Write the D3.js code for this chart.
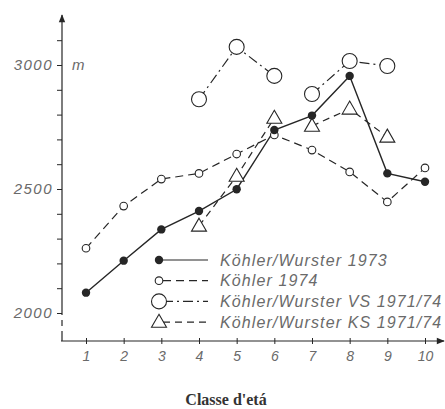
<!DOCTYPE html>
<html>
<head>
<meta charset="utf-8">
<script src="https://cdn.jsdelivr.net/npm/d3@7"></script>
<style>
  body { margin: 0; background: #fff; }
  svg { display: block; }
  .lbl { font-family: "Liberation Sans", sans-serif; font-style: italic; fill: #6a6a6a; }
</style>
</head>
<body>
<svg id="chart"></svg>
<script>
const classes = [1, 2, 3, 4, 5, 6, 7, 8, 9, 10];
const kw1973 = [2082, 2211, 2337, 2411, 2499, 2738, 2796, 2956, 2563, 2529];
const k1974 = [2261, 2431, 2540, 2563, 2641, 2718, 2657, 2569, 2448, 2585];
// VS and KS series cover classes 4-9, with a break between 6 and 7
const vsClasses = [[4, 5, 6], [7, 8, 9]];
const vsValues = [[2862, 3073, 2956], [2883, 3016, 2996]];
const ksClasses = [[4, 5, 6], [7, 8, 9]];
const ksValues = [[2351, 2552, 2786], [2754, 2823, 2710]];
const yTicks = [2000, 2100, 2200, 2300, 2400, 2500, 2600, 2700, 2800, 2900, 3000, 3100];
const yLabels = [2000, 2500, 3000];
const legendNames = [
  "Köhler/Wurster 1973",
  "Köhler 1974",
  "Köhler/Wurster VS 1971/74",
  "Köhler/Wurster KS 1971/74"
];
const xTitle = "Classe d'etá";

const width = 445, height = 409;
const ink = "#262626";

const svg = d3.select("#chart").attr("width", width).attr("height", height);

const xScale = d3.scaleLinear().domain([1, 10]).range([86, 425]);
const yScale = d3.scaleLinear().domain([2000, 3000]).range([313, 65]);

const axisX = 62;
const baseY = 341;

// arrow heads
const defs = svg.append("defs");
defs.append("marker")
  .attr("id", "arrow")
  .attr("viewBox", "0 0 10 10")
  .attr("refX", 9).attr("refY", 5)
  .attr("markerWidth", 10).attr("markerHeight", 8)
  .attr("markerUnits", "userSpaceOnUse")
  .attr("orient", "auto")
  .append("path")
  .attr("d", "M0,1 L10,5 L0,9 Z")
  .attr("fill", ink);

// y axis
const yAxis = d3.axisLeft(yScale)
  .tickValues(yTicks)
  .tickSize(5)
  .tickSizeOuter(0)
  .tickFormat(d => (yLabels.includes(d) ? d : ""));

const gy = svg.append("g")
  .attr("transform", `translate(${axisX},0)`)
  .call(yAxis);
gy.select(".domain").remove();
gy.selectAll(".tick line").attr("stroke", ink).attr("stroke-width", 1);
gy.selectAll(".tick text")
  .attr("class", "lbl")
  .attr("x", -9)
  .style("font-size", "15px")
  .style("letter-spacing", "1.5px");

svg.append("line")
  .attr("x1", axisX).attr("x2", axisX)
  .attr("y1", yScale(2000)).attr("y2", 15)
  .attr("stroke", ink).attr("stroke-width", 1.2)
  .attr("marker-end", "url(#arrow)");

// broken part of the y axis
svg.append("line")
  .attr("x1", axisX).attr("x2", axisX)
  .attr("y1", yScale(2000)).attr("y2", baseY)
  .attr("stroke", ink).attr("stroke-width", 1.2)
  .attr("stroke-dasharray", "2,5,6,5,20");

svg.append("text")
  .attr("class", "lbl")
  .attr("x", 72).attr("y", yScale(3000))
  .attr("dy", "0.32em")
  .style("font-size", "15px")
  .text("m");

// x axis
const xAxis = d3.axisBottom(xScale)
  .tickValues(classes)
  .tickSize(3)
  .tickSizeOuter(0)
  .tickPadding(7);

const gx = svg.append("g")
  .attr("transform", `translate(0,${baseY})`)
  .call(xAxis);
gx.select(".domain").remove();
gx.selectAll(".tick line").attr("y1", -3).attr("stroke", ink);
gx.selectAll(".tick text")
  .attr("class", "lbl")
  .style("font-size", "14px");

svg.append("line")
  .attr("x1", axisX - 1).attr("x2", 444)
  .attr("y1", baseY).attr("y2", baseY)
  .attr("stroke", ink).attr("stroke-width", 1.2)
  .attr("marker-end", "url(#arrow)");

svg.append("text")
  .attr("x", 226).attr("y", 405)
  .attr("text-anchor", "middle")
  .style("font-family", "Liberation Serif, serif")
  .style("font-weight", "bold")
  .style("font-size", "16px")
  .style("fill", "#333")
  .text(xTitle);

// series
const line = d3.line()
  .x(d => xScale(d[0]))
  .y(d => yScale(d[1]));

const styles = [
  { dash: null, marker: "dot" },
  { dash: "8,5", marker: "small" },
  { dash: "10,4,2,4", marker: "big" },
  { dash: "7,5", marker: "tri" }
];

const series = [
  [classes.map((c, i) => [c, kw1973[i]])],
  [classes.map((c, i) => [c, k1974[i]])],
  vsClasses.map((cs, s) => cs.map((c, i) => [c, vsValues[s][i]])),
  ksClasses.map((cs, s) => cs.map((c, i) => [c, ksValues[s][i]]))
];

const drawMarker = (g, kind, x, y) => {
  if (kind === "dot") {
    g.append("circle").attr("cx", x).attr("cy", y).attr("r", 4.2).attr("fill", ink);
  } else if (kind === "small") {
    g.append("circle").attr("cx", x).attr("cy", y).attr("r", 3.8)
      .attr("fill", "#fff").attr("stroke", ink).attr("stroke-width", 1.1);
  } else if (kind === "big") {
    g.append("circle").attr("cx", x).attr("cy", y).attr("r", 7.5)
      .attr("fill", "#fff").attr("stroke", ink).attr("stroke-width", 1.1);
  } else {
    const s = 15, h = 13;
    g.append("path")
      .attr("d", `M${x},${y - h * 0.6} L${x + s / 2},${y + h * 0.4} L${x - s / 2},${y + h * 0.4} Z`)
      .attr("fill", "#fff").attr("stroke", ink).attr("stroke-width", 1.1);
  }
};

const lineLayer = svg.append("g");
const markLayer = svg.append("g");

series.forEach((segs, k) => {
  segs.forEach(seg => {
    lineLayer.append("path")
      .datum(seg)
      .attr("d", line)
      .attr("fill", "none")
      .attr("stroke", ink)
      .attr("stroke-width", k === 0 ? 1.4 : 1.2)
      .attr("stroke-dasharray", styles[k].dash);
  });
});

// draw markers: open ones first, filled dots on top
[2, 3, 1, 0].forEach(k => {
  series[k].forEach(seg => {
    seg.forEach(d => drawMarker(markLayer, styles[k].marker, xScale(d[0]), yScale(d[1])));
  });
});

// legend
const legend = svg.append("g").attr("transform", "translate(159,260)");
legendNames.forEach((name, i) => {
  const g = legend.append("g").attr("transform", `translate(0,${i * 20.7})`);
  g.append("line")
    .attr("x1", 4).attr("x2", 49)
    .attr("stroke", ink).attr("stroke-width", 1.2)
    .attr("stroke-dasharray", styles[i].dash);
  g.append("rect").attr("x", -9).attr("y", -8).attr("width", 12).attr("height", 16).attr("fill", "#fff");
  drawMarker(g, styles[i].marker, 0, 0);
  g.append("text")
    .attr("class", "lbl")
    .attr("x", 61).attr("dy", "0.35em")
    .style("font-size", "16px")
    .style("letter-spacing", "1.1px")
    .text(name);
});
</script>
</body>
</html>
